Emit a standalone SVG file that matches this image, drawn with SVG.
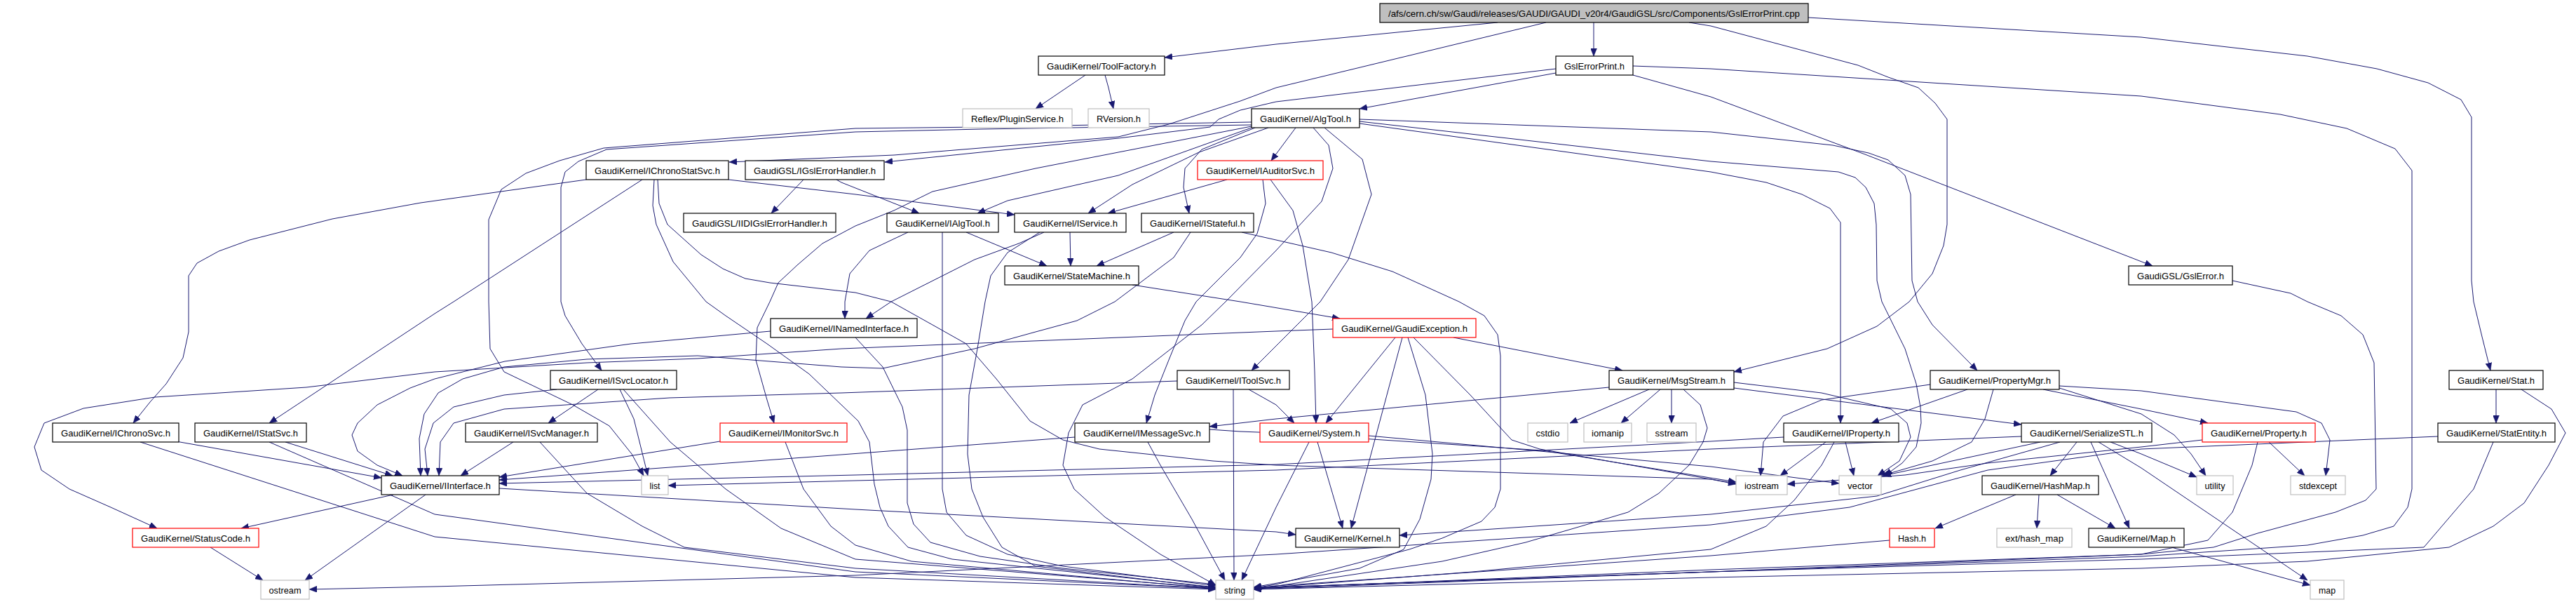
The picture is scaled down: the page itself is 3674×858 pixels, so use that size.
<svg xmlns="http://www.w3.org/2000/svg" width="3674" height="858" viewBox="0 0 3674 858">
<defs>
<marker id="ah" viewBox="0 0 11 9" refX="11" refY="4.5" markerWidth="11" markerHeight="9" markerUnits="userSpaceOnUse" orient="auto"><path d="M0,0L11,4.5L0,9z" fill="#191970" stroke="#191970" stroke-width="0.5"/></marker>
</defs>
<style>
rect{fill:#fff;stroke:#000;stroke-width:1.2}
.r rect{stroke:#ff0000}
.g rect{stroke:#bfbfbf}
.root rect{fill:#bfbfbf}
text{font-family:"Liberation Sans",Arial,sans-serif;font-size:13.5px;fill:#000;text-anchor:middle}
#edges path{fill:none;stroke:#191970;stroke-width:1;marker-end:url(#ah)}
</style>
<rect x="0" y="0" width="3674" height="858" style="fill:#fff;stroke:none"/>
<g id="edges">
<path d="M2136,32 L1820,63 L1661,82"/>
<path d="M2273,32 L2273,80"/>
<path d="M2205,32 L1820,125 L1769,144 L1667,177 L1595,195 L1275,221 L1040,231"/>
<path d="M2409,32 L2440,37 L2650,93 L2693,110 L2736,125 L2760,147 L2777,170 L2777,320 L2772,350 L2756,390 L2723,430 L2677,465 L2606,497 L2473,530"/>
<path d="M2579,25 L3054,53 L3291,80 L3390,98 L3463,118 L3510,142 L3525,167 L3525,400 L3528,430 L3540,480 L3552,528"/>
<path d="M1548,107 L1477,155"/>
<path d="M1576,107 L1581,125 L1588,155"/>
<path d="M2219,104 L1939,155"/>
<path d="M2219,98 L1820,145 L1769,157 L1738,170 L1726,181 L1595,197 L1262,231"/>
<path d="M2329,107 L2440,138 L2660,220 L3070,379"/>
<path d="M2329,94 L2440,98 L3054,137 L3252,163 L3347,183 L3416,212 L3440,243 L3440,697 L3434,723 L3414,750 L3370,763 L3291,777 L3054,793 L2440,815 L1788,840"/>
<path d="M1848,182 L1813,229"/>
<path d="M1785,182 L1595,250 L1437,286 L1394,304"/>
<path d="M1809,182 L1710,217 L1615,263 L1552,304"/>
<path d="M1790,182 L1714,213 L1690,240 L1688,267 L1696,304"/>
<path d="M1785,178 L1400,184 L1220,188 L865,213 L825,230 L806,245 L800,267 L800,430 L806,450 L830,490 L858,528"/>
<path d="M1785,174 L1400,181 L1220,183 L861,211 L798,229 L750,247 L715,270 L697,313 L697,430 L699,497 L719,530 L817,577 L869,607 L901,647 L918,678"/>
<path d="M1785,180 L1667,203 L1477,240 L1330,273 L1275,300 L1220,322 L1173,347 L1138,377 L1110,403 L1098,430 L1080,467 L1078,513 L1094,570 L1104,603"/>
<path d="M1889,182 L1943,227 L1956,277 L1923,370 L1883,430 L1820,493 L1785,528"/>
<path d="M1873,182 L1895,207 L1901,240 L1885,287 L1820,357 L1748,430 L1714,463 L1615,540 L1544,577 L1524,617 L1516,663 L1532,697 L1576,737 L1655,790 L1734,834"/>
<path d="M1801,256 L1805,290 L1793,333 L1769,367 L1706,430 L1690,457 L1667,513 L1647,563 L1635,603"/>
<path d="M1750,256 L1580,304"/>
<path d="M1812,256 L1820,267 L1844,300 L1858,350 L1871,430 L1875,530 L1877,603"/>
<path d="M1939,170 L2440,188 L2614,207 L2665,218 L2693,228 L2717,250 L2725,277 L2727,400 L2735,430 L2756,463 L2812,520 L2820,528"/>
<path d="M1939,173 L2440,230 L2622,245 L2646,253 L2661,267 L2673,290 L2676,320 L2677,400 L2684,430 L2717,497 L2733,547 L2739,580 L2740,603 L2733,637 L2713,660 L2688,678"/>
<path d="M1939,176 L2440,245 L2519,260 L2570,277 L2610,297 L2625,317 L2625,603"/>
<path d="M836,256 L600,289 L474,312 L356,342 L312,358 L281,375 L269,393 L269,473 L261,510 L237,547 L214,573 L190,603"/>
<path d="M916,256 L647,430 L620,447 L384,603"/>
<path d="M1039,256 L1220,277 L1447,306"/>
<path d="M933,256 L931,293 L936,320 L960,373 L1007,430 L1035,450 L1094,490 L1154,533 L1200,577 L1224,600 L1240,630 L1247,690 L1255,723 L1267,750 L1295,780 L1358,797 L1734,837"/>
<path d="M938,256 L940,290 L952,320 L1000,363 L1031,383 L1063,397 L1098,403 L1220,417 L1271,430 L1330,463 L1378,490 L1421,540 L1469,600 L1516,627 L1568,640 L1730,657 L1820,663 L2440,683 L2476,689"/>
<path d="M1146,256 L1100,304"/>
<path d="M1193,256 L1200,260 L1311,304"/>
<path d="M1295,331 L1240,357 L1212,390 L1205,430 L1205,454"/>
<path d="M1378,331 L1493,379"/>
<path d="M1344,331 L1344,697 L1350,730 L1378,763 L1437,790 L1516,807 L1734,835"/>
<path d="M1526,331 L1527,379"/>
<path d="M1489,331 L1453,347 L1390,370 L1271,430 L1235,454"/>
<path d="M1483,331 L1437,360 L1413,393 L1405,430 L1394,497 L1382,563 L1380,647 L1386,697 L1402,737 L1429,780 L1477,807 L1734,838"/>
<path d="M1674,331 L1564,379"/>
<path d="M1698,331 L1674,367 L1590,430 L1536,457 L1477,473 L1390,497 L1259,525 L1200,523 L995,507 L837,512 L719,523 L660,540 L625,560 L605,590 L598,625 L600,678"/>
<path d="M1771,331 L1820,342 L1899,360 L1986,387 L2081,430 L2117,450 L2136,477 L2140,507 L2140,697 L2132,723 L2113,743 L2057,767 L2010,783 L1820,833 L1788,838"/>
<path d="M1615,406 L1769,430 L1911,454"/>
<path d="M1220,481 L1259,523 L1287,580 L1294,613 L1294,717 L1303,747 L1327,773 L1398,793 L1516,810 L1734,833"/>
<path d="M1099,472 L900,490 L720,515 L620,540 L585,553 L538,577 L510,603 L502,620 L510,643 L538,663 L574,678"/>
<path d="M1901,469 L1820,472 L1200,497 L995,511 L837,517 L620,530 L437,552 L221,566 L119,582 L63,603 L49,637 L59,670 L99,697 L158,723 L224,753"/>
<path d="M1990,481 L1891,603"/>
<path d="M2000,481 L1927,753"/>
<path d="M2008,481 L2033,563 L2043,647 L2041,683 L2025,740 L2002,783 L1939,810 L1788,837"/>
<path d="M2073,481 L2314,528"/>
<path d="M2016,481 L2097,563 L2156,627 L2196,640 L2440,683 L2476,690"/>
<path d="M1781,555 L1820,577 L1846,603"/>
<path d="M1759,555 L1760,827"/>
<path d="M1679,543 L1200,560 L955,567 L719,583 L647,603 L628,630 L626,678"/>
<path d="M2295,552 L1820,597 L1725,608"/>
<path d="M2352,555 L2239,603"/>
<path d="M2368,555 L2312,603"/>
<path d="M2384,555 L2384,603"/>
<path d="M2401,555 L2425,577 L2435,610 L2429,630 L2409,663 L2366,703 L2322,730 L2255,750 L2176,773 L2057,800 L1788,840"/>
<path d="M2473,545 L2598,560 L2697,583 L2720,603 L2725,623 L2709,657 L2678,678"/>
<path d="M2473,553 L2883,605"/>
<path d="M1533,623 L1200,648 L712,684"/>
<path d="M1637,630 L1655,663 L1700,740 L1747,827"/>
<path d="M1725,612 L1769,615 L1820,617 L2200,642 L2476,687"/>
<path d="M1879,630 L1915,753"/>
<path d="M1867,630 L1820,723 L1771,827"/>
<path d="M1952,621 L2440,665 L2623,689"/>
<path d="M1027,629 L712,680"/>
<path d="M1120,630 L1146,697 L1185,750 L1220,777 L1300,800 L1734,839"/>
<path d="M794,555 L719,563 L647,580 L618,603 L606,640 L610,678"/>
<path d="M853,555 L782,603"/>
<path d="M884,555 L904,597 L924,678"/>
<path d="M889,555 L956,630 L1035,697 L1114,753 L1220,797 L1734,838"/>
<path d="M732,630 L657,678"/>
<path d="M770,630 L837,703 L916,750 L976,780 L1220,810 L1734,839"/>
<path d="M251,629 L544,681"/>
<path d="M200,630 L620,765 L1220,823 L1734,840"/>
<path d="M407,630 L560,678"/>
<path d="M384,630 L620,733 L1220,815 L1734,839"/>
<path d="M561,705 L344,753"/>
<path d="M607,705 L435,827"/>
<path d="M712,696 L1220,726 L1820,758 L1848,762"/>
<path d="M300,780 L375,827"/>
<path d="M2604,630 L2539,678"/>
<path d="M2632,630 L2644,678"/>
<path d="M2616,630 L2598,663 L2559,713 L2519,750 L2440,783 L2100,815 L1788,839"/>
<path d="M2544,623 L2440,629 L1820,662 L1220,677 L712,689"/>
<path d="M2806,555 L2669,603"/>
<path d="M2753,548 L2598,570 L2543,593 L2515,630 L2511,678"/>
<path d="M2843,555 L2831,597 L2812,630 L2756,657 L2683,678"/>
<path d="M2914,555 L3054,583 L3149,603"/>
<path d="M2937,550 L3054,557 L3275,587 L3311,603 L3323,627 L3317,678"/>
<path d="M2937,553 L3054,590 L3101,620 L3125,647 L3146,678"/>
<path d="M2910,630 L2686,678"/>
<path d="M2962,630 L2924,678"/>
<path d="M2982,630 L3037,753"/>
<path d="M2993,630 L3054,667 L3291,827"/>
<path d="M3010,630 L3054,647 L3133,680"/>
<path d="M2938,630 L2796,670 L2677,707 L2440,733 L1996,763"/>
<path d="M2883,622 L2440,640 L1820,670 L1220,685 L953,692"/>
<path d="M3236,630 L3287,678"/>
<path d="M3220,630 L3212,663 L3184,730 L3149,770 L3054,790 L2440,812 L1788,839"/>
<path d="M3141,627 L3054,637 L2835,660 L2717,677 L2549,690"/>
<path d="M3477,622 L3054,640 L2835,670 L2638,723 L2440,748 L1820,790 L1220,820 L620,836 L441,840"/>
<path d="M3556,630 L3528,697 L3457,780 L3054,797 L2440,815 L1788,838"/>
<path d="M3560,555 L3560,603"/>
<path d="M3596,555 L3639,583 L3659,617 L3635,663 L3600,717 L3556,750 L3493,780 L3291,800 L3054,810 L2440,823 L1788,840"/>
<path d="M3184,400 L3267,418 L3291,430 L3339,450 L3370,477 L3386,517 L3389,697 L3374,713 L3331,730 L3220,760 L3157,780 L3054,790 L2440,815 L1788,838"/>
<path d="M2875,705 L2760,753"/>
<path d="M2908,705 L2905,753"/>
<path d="M2934,705 L3017,753"/>
<path d="M2695,770 L2440,792 L1820,835 L1788,838"/>
<path d="M3097,780 L3295,834"/>
</g>
<g id="root" class="root"><rect x="1968" y="5" width="611" height="27"/><text x="2273.5" y="24" textLength="587" lengthAdjust="spacingAndGlyphs">/afs/cern.ch/sw/Gaudi/releases/GAUDI/GAUDI_v20r4/GaudiGSL/src/Components/GslErrorPrint.cpp</text></g>
<g id="n_toolfactory"><rect x="1481" y="80" width="180" height="27"/><text x="1571" y="99" textLength="156" lengthAdjust="spacingAndGlyphs">GaudiKernel/ToolFactory.h</text></g>
<g id="n_gslerrorprint_h"><rect x="2219" y="80" width="110" height="27"/><text x="2274" y="99" textLength="86" lengthAdjust="spacingAndGlyphs">GslErrorPrint.h</text></g>
<g id="n_pluginservice" class="g"><rect x="1373" y="155" width="156" height="27"/><text x="1451" y="174" textLength="132" lengthAdjust="spacingAndGlyphs">Reflex/PluginService.h</text></g>
<g id="n_rversion" class="g"><rect x="1552" y="155" width="87" height="27"/><text x="1595.5" y="174" textLength="63" lengthAdjust="spacingAndGlyphs">RVersion.h</text></g>
<g id="n_algtool"><rect x="1785" y="155" width="154" height="27"/><text x="1862" y="174" textLength="130" lengthAdjust="spacingAndGlyphs">GaudiKernel/AlgTool.h</text></g>
<g id="n_ichronostatsvc"><rect x="836" y="229" width="203" height="27"/><text x="937.5" y="248" textLength="179" lengthAdjust="spacingAndGlyphs">GaudiKernel/IChronoStatSvc.h</text></g>
<g id="n_igslerrorhandler"><rect x="1063" y="229" width="198" height="27"/><text x="1162" y="248" textLength="174" lengthAdjust="spacingAndGlyphs">GaudiGSL/IGslErrorHandler.h</text></g>
<g id="n_iauditorsvc" class="r"><rect x="1708" y="229" width="179" height="27"/><text x="1797.5" y="248" textLength="155" lengthAdjust="spacingAndGlyphs">GaudiKernel/IAuditorSvc.h</text></g>
<g id="n_iidigslerrorhandler"><rect x="975" y="304" width="217" height="27"/><text x="1083.5" y="323" textLength="193" lengthAdjust="spacingAndGlyphs">GaudiGSL/IIDIGslErrorHandler.h</text></g>
<g id="n_ialgtool"><rect x="1265" y="304" width="159" height="27"/><text x="1344.5" y="323" textLength="135" lengthAdjust="spacingAndGlyphs">GaudiKernel/IAlgTool.h</text></g>
<g id="n_iservice"><rect x="1447" y="304" width="159" height="27"/><text x="1526.5" y="323" textLength="135" lengthAdjust="spacingAndGlyphs">GaudiKernel/IService.h</text></g>
<g id="n_istateful"><rect x="1628" y="304" width="160" height="27"/><text x="1708" y="323" textLength="136" lengthAdjust="spacingAndGlyphs">GaudiKernel/IStateful.h</text></g>
<g id="n_statemachine"><rect x="1433" y="379" width="191" height="27"/><text x="1528.5" y="398" textLength="167" lengthAdjust="spacingAndGlyphs">GaudiKernel/StateMachine.h</text></g>
<g id="n_gslerror"><rect x="3036" y="379" width="148" height="27"/><text x="3110" y="398" textLength="124" lengthAdjust="spacingAndGlyphs">GaudiGSL/GslError.h</text></g>
<g id="n_inamedinterface"><rect x="1099" y="454" width="209" height="27"/><text x="1203.5" y="473" textLength="185" lengthAdjust="spacingAndGlyphs">GaudiKernel/INamedInterface.h</text></g>
<g id="n_gaudiexception" class="r"><rect x="1901" y="454" width="204" height="27"/><text x="2003" y="473" textLength="180" lengthAdjust="spacingAndGlyphs">GaudiKernel/GaudiException.h</text></g>
<g id="n_isvclocator"><rect x="785" y="528" width="180" height="27"/><text x="875" y="547" textLength="156" lengthAdjust="spacingAndGlyphs">GaudiKernel/ISvcLocator.h</text></g>
<g id="n_itoolsvc"><rect x="1679" y="528" width="160" height="27"/><text x="1759" y="547" textLength="136" lengthAdjust="spacingAndGlyphs">GaudiKernel/IToolSvc.h</text></g>
<g id="n_msgstream"><rect x="2295" y="528" width="178" height="27"/><text x="2384" y="547" textLength="154" lengthAdjust="spacingAndGlyphs">GaudiKernel/MsgStream.h</text></g>
<g id="n_propertymgr"><rect x="2753" y="528" width="184" height="27"/><text x="2845" y="547" textLength="160" lengthAdjust="spacingAndGlyphs">GaudiKernel/PropertyMgr.h</text></g>
<g id="n_stat"><rect x="3493" y="528" width="134" height="27"/><text x="3560" y="547" textLength="110" lengthAdjust="spacingAndGlyphs">GaudiKernel/Stat.h</text></g>
<g id="n_ichronosvc"><rect x="75" y="603" width="180" height="27"/><text x="165" y="622" textLength="156" lengthAdjust="spacingAndGlyphs">GaudiKernel/IChronoSvc.h</text></g>
<g id="n_istatsvc"><rect x="278" y="603" width="159" height="27"/><text x="357.5" y="622" textLength="135" lengthAdjust="spacingAndGlyphs">GaudiKernel/IStatSvc.h</text></g>
<g id="n_isvcmanager"><rect x="664" y="603" width="188" height="27"/><text x="758" y="622" textLength="164" lengthAdjust="spacingAndGlyphs">GaudiKernel/ISvcManager.h</text></g>
<g id="n_imonitorsvc" class="r"><rect x="1027" y="603" width="181" height="27"/><text x="1117.5" y="622" textLength="157" lengthAdjust="spacingAndGlyphs">GaudiKernel/IMonitorSvc.h</text></g>
<g id="n_imessagesvc"><rect x="1533" y="603" width="192" height="27"/><text x="1629" y="622" textLength="168" lengthAdjust="spacingAndGlyphs">GaudiKernel/IMessageSvc.h</text></g>
<g id="n_system" class="r"><rect x="1797" y="603" width="155" height="27"/><text x="1874.5" y="622" textLength="131" lengthAdjust="spacingAndGlyphs">GaudiKernel/System.h</text></g>
<g id="n_cstdio" class="g"><rect x="2179" y="603" width="57" height="27"/><text x="2207.5" y="622" textLength="34" lengthAdjust="spacingAndGlyphs">cstdio</text></g>
<g id="n_iomanip" class="g"><rect x="2259" y="603" width="68" height="27"/><text x="2293" y="622" textLength="46" lengthAdjust="spacingAndGlyphs">iomanip</text></g>
<g id="n_sstream" class="g"><rect x="2349" y="603" width="70" height="27"/><text x="2384" y="622" textLength="47" lengthAdjust="spacingAndGlyphs">sstream</text></g>
<g id="n_iproperty"><rect x="2544" y="603" width="164" height="27"/><text x="2626" y="622" textLength="140" lengthAdjust="spacingAndGlyphs">GaudiKernel/IProperty.h</text></g>
<g id="n_serializestl"><rect x="2883" y="603" width="186" height="27"/><text x="2976" y="622" textLength="162" lengthAdjust="spacingAndGlyphs">GaudiKernel/SerializeSTL.h</text></g>
<g id="n_property" class="r"><rect x="3141" y="603" width="161" height="27"/><text x="3221.5" y="622" textLength="137" lengthAdjust="spacingAndGlyphs">GaudiKernel/Property.h</text></g>
<g id="n_statentity"><rect x="3477" y="603" width="167" height="27"/><text x="3560.5" y="622" textLength="143" lengthAdjust="spacingAndGlyphs">GaudiKernel/StatEntity.h</text></g>
<g id="n_iinterface"><rect x="544" y="678" width="168" height="27"/><text x="628" y="697" textLength="144" lengthAdjust="spacingAndGlyphs">GaudiKernel/IInterface.h</text></g>
<g id="n_list" class="g"><rect x="915" y="678" width="38" height="27"/><text x="934" y="697" textLength="15" lengthAdjust="spacingAndGlyphs">list</text></g>
<g id="n_iostream" class="g"><rect x="2476" y="678" width="73" height="27"/><text x="2512.5" y="697" textLength="49" lengthAdjust="spacingAndGlyphs">iostream</text></g>
<g id="n_vector" class="g"><rect x="2623" y="678" width="60" height="27"/><text x="2653" y="697" textLength="36" lengthAdjust="spacingAndGlyphs">vector</text></g>
<g id="n_hashmap"><rect x="2827" y="678" width="166" height="27"/><text x="2910" y="697" textLength="142" lengthAdjust="spacingAndGlyphs">GaudiKernel/HashMap.h</text></g>
<g id="n_utility" class="g"><rect x="3133" y="678" width="52" height="27"/><text x="3159" y="697" textLength="29" lengthAdjust="spacingAndGlyphs">utility</text></g>
<g id="n_stdexcept" class="g"><rect x="3267" y="678" width="78" height="27"/><text x="3306" y="697" textLength="54" lengthAdjust="spacingAndGlyphs">stdexcept</text></g>
<g id="n_statuscode" class="r"><rect x="189" y="753" width="180" height="27"/><text x="279" y="772" textLength="156" lengthAdjust="spacingAndGlyphs">GaudiKernel/StatusCode.h</text></g>
<g id="n_kernel"><rect x="1848" y="753" width="148" height="27"/><text x="1922" y="772" textLength="124" lengthAdjust="spacingAndGlyphs">GaudiKernel/Kernel.h</text></g>
<g id="n_hash" class="r"><rect x="2695" y="753" width="64" height="27"/><text x="2727" y="772" textLength="40" lengthAdjust="spacingAndGlyphs">Hash.h</text></g>
<g id="n_ext_hash_map" class="g"><rect x="2848" y="753" width="107" height="27"/><text x="2901.5" y="772" textLength="83" lengthAdjust="spacingAndGlyphs">ext/hash_map</text></g>
<g id="n_map_h"><rect x="2979" y="753" width="136" height="27"/><text x="3047" y="772" textLength="112" lengthAdjust="spacingAndGlyphs">GaudiKernel/Map.h</text></g>
<g id="n_ostream" class="g"><rect x="372" y="827" width="69" height="27"/><text x="406.5" y="846" textLength="46" lengthAdjust="spacingAndGlyphs">ostream</text></g>
<g id="n_string" class="g"><rect x="1734" y="827" width="54" height="27"/><text x="1761" y="846" textLength="30" lengthAdjust="spacingAndGlyphs">string</text></g>
<g id="n_map" class="g"><rect x="3295" y="827" width="48" height="27"/><text x="3319" y="846" textLength="24" lengthAdjust="spacingAndGlyphs">map</text></g>
</svg>
